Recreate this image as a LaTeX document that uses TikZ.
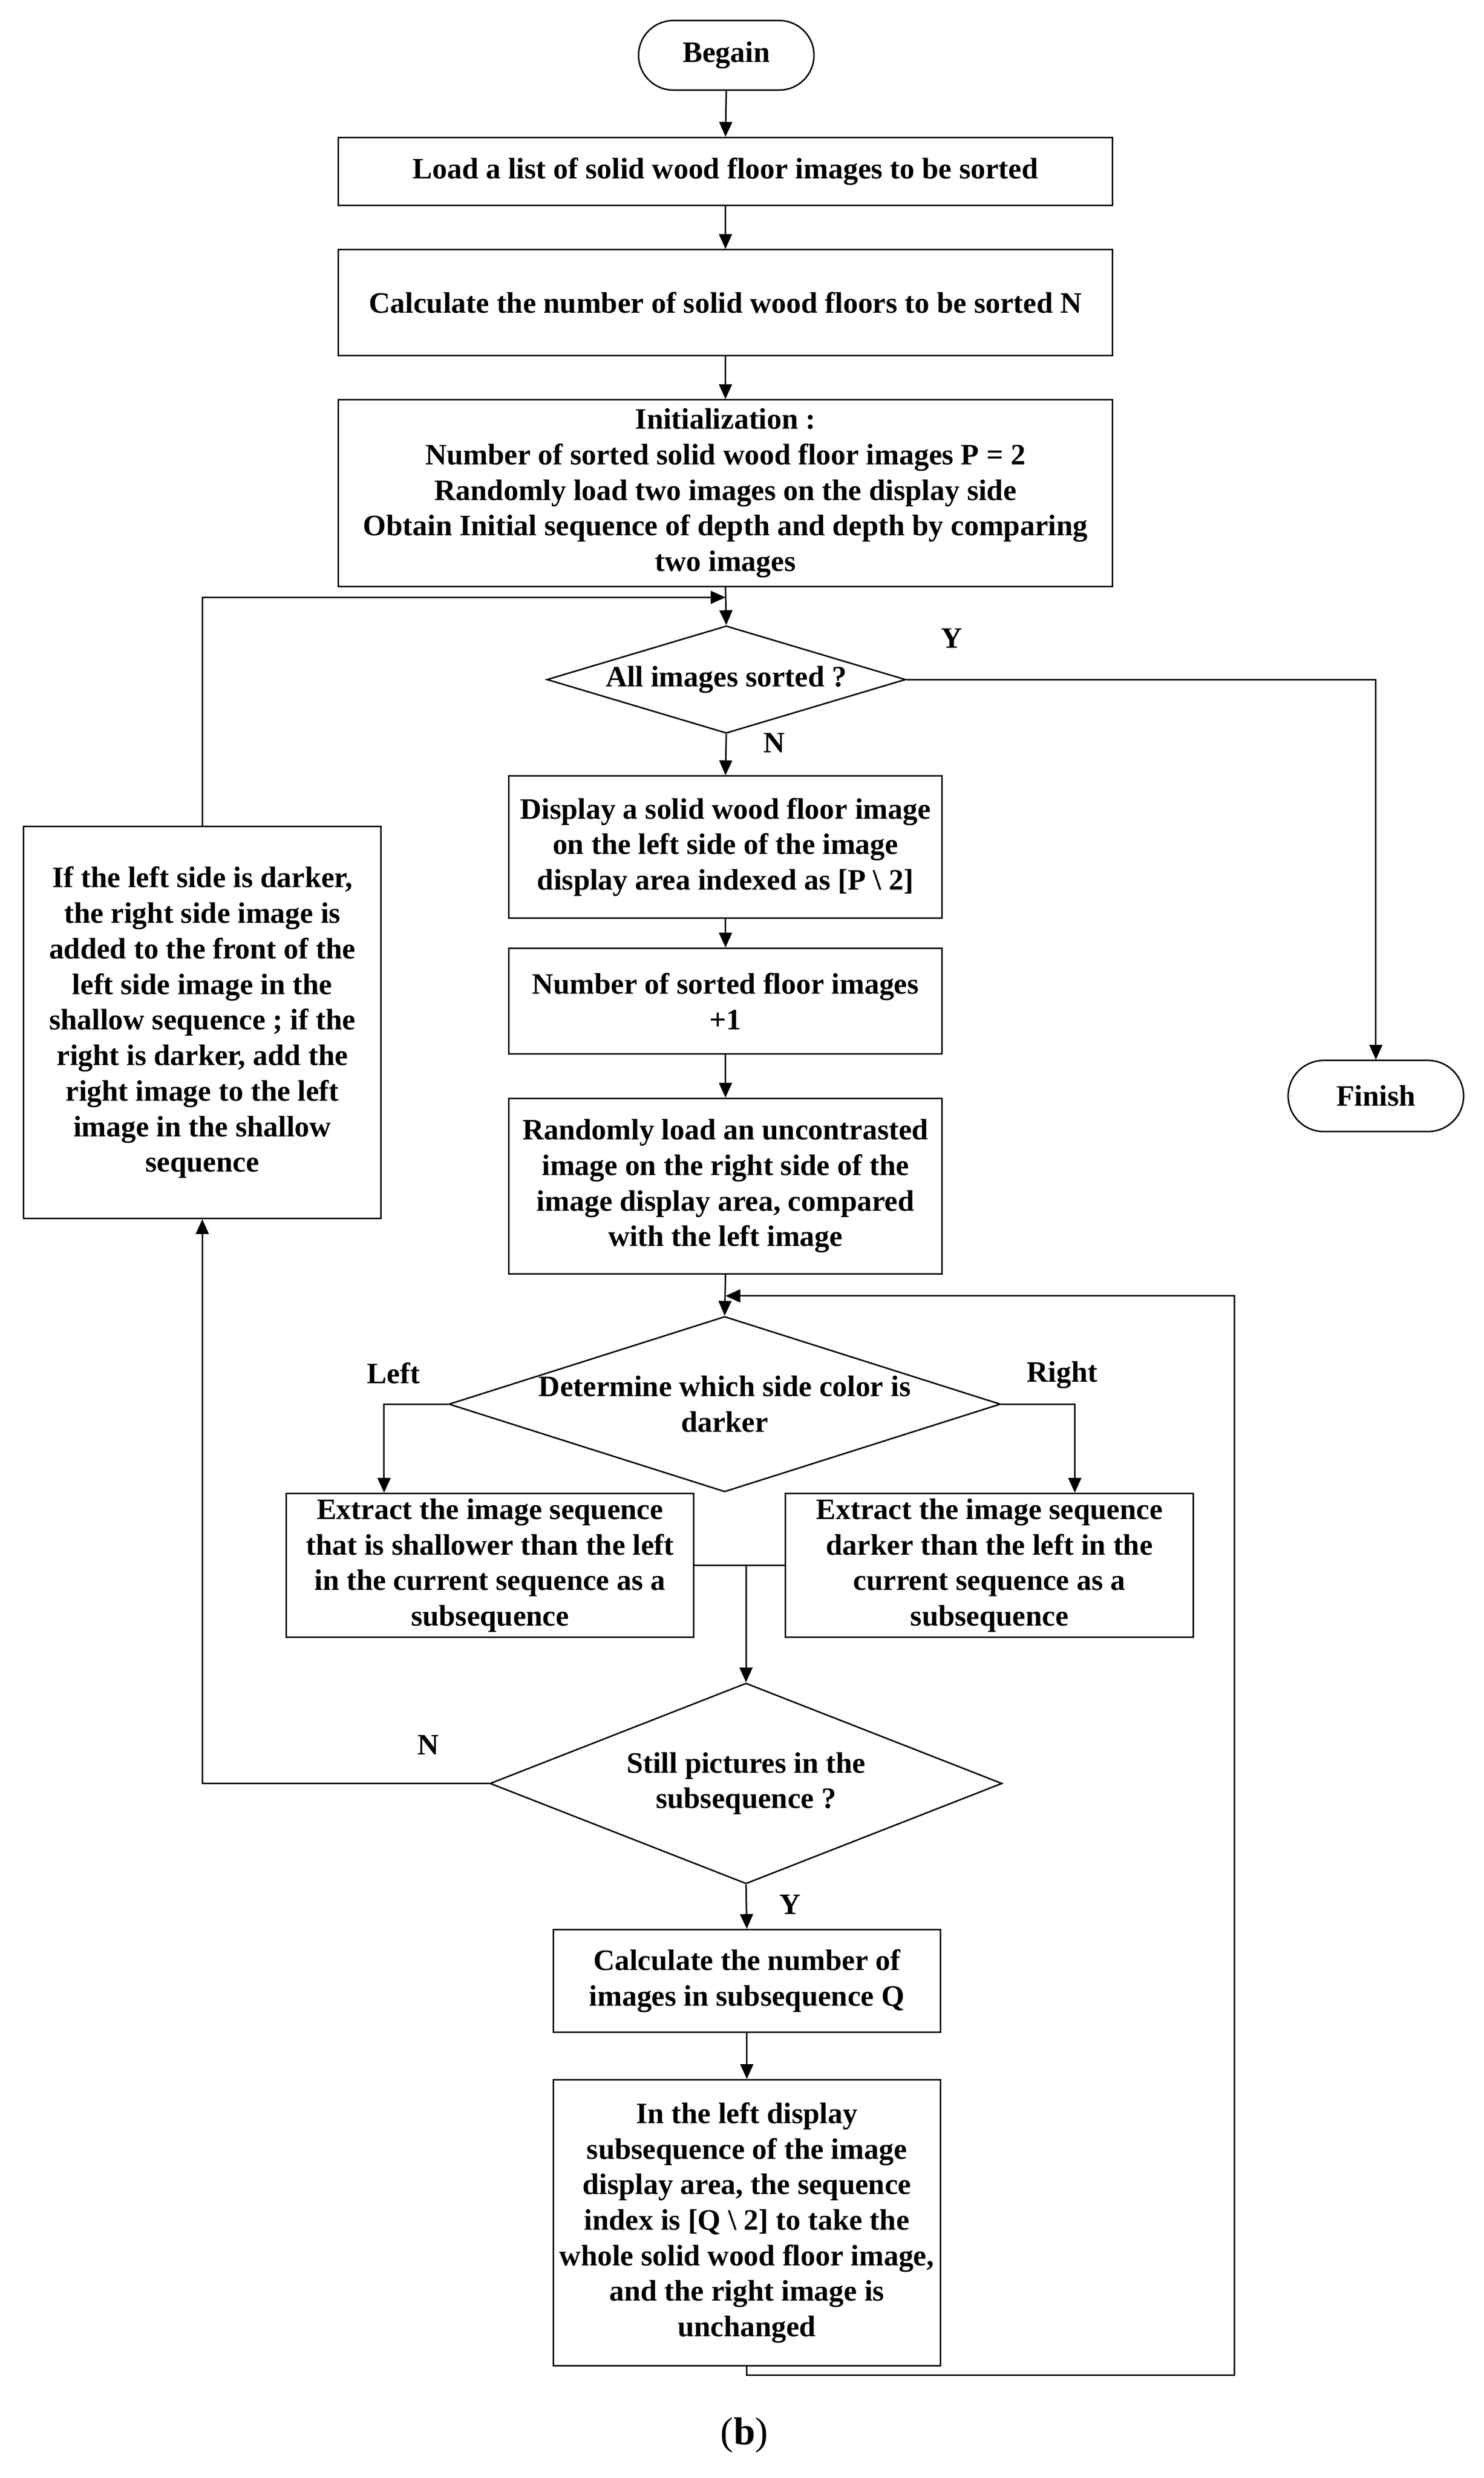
\documentclass[tikz,border=0pt]{standalone}
\usepackage{fontspec}
\setmainfont{Liberation Serif}
\usetikzlibrary{arrows.meta,shapes.geometric,shapes.misc}
\newcommand{\mainf}{\fontsize{16}{19.2}\selectfont\bfseries}
\tikzset{
  base/.style={draw, line width=0.8pt, font=\mainf, align=center, inner sep=0pt},
  procbox/.style={base, rectangle},
  term/.style={base, rounded rectangle},
  decision/.style={draw, line width=0.8pt, diamond, inner sep=0pt},
  arr/.style={-{Triangle[length=8pt,width=7pt]}, line width=0.8pt},
  conn/.style={line width=0.8pt},
  lbl/.style={font=\mainf, inner sep=0pt}
}
\begin{document}
\begin{tikzpicture}[x=0.03cm, y=-0.03cm]
\useasboundingbox (0,0) rectangle (938.8,1568);
% terminals
\node[term, minimum width=3.33cm, minimum height=1.32cm] (begin) at (459.5,35) {Begain};
\node[term, minimum width=3.33cm, minimum height=1.35cm] (fin) at (870.5,693.5) {Finish};
% process boxes
\node[procbox, minimum width=14.7cm, minimum height=1.29cm] (b1) at (459,108.5) {Load a list of solid wood floor images to be sorted};
\node[procbox, minimum width=14.7cm, minimum height=2.01cm] (b2) at (459,191.5) {Calculate the number of solid wood floors to be sorted N};
\node[procbox, minimum width=14.7cm, minimum height=3.54cm] (b3) at (459,312) {Initialization :\\Number of sorted solid wood floor images P = 2\\Randomly load two images on the display side\\Obtain Initial sequence of depth and depth by comparing\\two images};
\node[procbox, minimum width=8.22cm, minimum height=2.7cm] (b4) at (459,536) {Display a solid wood floor image\\on the left side of the image\\display area indexed as [P \textbackslash\ 2]};
\node[procbox, minimum width=8.22cm, minimum height=2.01cm] (b5) at (459,633.5) {Number of sorted floor images\\+1};
\node[procbox, minimum width=8.22cm, minimum height=3.33cm] (b6) at (459,750.5) {Randomly load an uncontrasted\\image on the right side of the\\image display area, compared\\with the left image};
\node[procbox, minimum width=7.74cm, minimum height=2.73cm] (b7) at (310,990.5) {Extract the image sequence\\that is shallower than the left\\in the current sequence as a\\subsequence};
\node[procbox, minimum width=7.74cm, minimum height=2.73cm] (b8) at (626,990.5) {Extract the image sequence\\darker than the left in the\\current sequence as a\\subsequence};
\node[procbox, minimum width=7.35cm, minimum height=1.95cm] (b9) at (472.5,1253.5) {Calculate the number of\\images in subsequence Q};
\node[procbox, minimum width=7.35cm, minimum height=5.43cm] (b10) at (472.5,1406.5) {In the left display\\subsequence of the image\\display area, the sequence\\index is [Q \textbackslash\ 2] to take the\\whole solid wood floor image,\\and the right image is\\unchanged};
\node[procbox, minimum width=6.78cm, minimum height=7.44cm] (lb) at (128,647) {If the left side is darker,\\the right side image is\\added to the front of the\\left side image in the\\shallow sequence ; if the\\right is darker, add the\\right image to the left\\image in the shallow\\sequence};
% decisions
\node[decision, minimum width=6.81cm, minimum height=2.04cm] (d1) at (459.5,430) {};
\node[lbl] (d1t) at (d1) {All images sorted ?};
\node[decision, minimum width=10.47cm, minimum height=3.33cm] (d2) at (458.5,888.5) {};
\node[lbl, align=center] (d2t) at (d2) {Determine which side color is\\darker};
\node[decision, minimum width=9.72cm, minimum height=3.81cm] (d3) at (472,1128.5) {};
\node[lbl, align=center] (d3t) at (d3) {Still pictures in the\\subsequence ?};
% helper coordinates
\coordinate (jn1) at (459,378);
\coordinate (jn2) at (459,820);
\coordinate (lft) at (243,888.5);
\coordinate (rgt) at (680,888.5);
\coordinate (lpB) at (781,1503);
\coordinate (lpT) at (781,820);
% connectors
\draw[arr] (begin.south) -- (b1.north);
\draw[arr] (b1.south) -- (b2.north);
\draw[arr] (b2.south) -- (b3.north);
\draw[arr] (b3.south) -- (d1.north);
\draw[arr] (d1.east) -| (fin.north);
\draw[arr] (d1.south) -- (b4.north);
\draw[arr] (b4.south) -- (b5.north);
\draw[arr] (b5.south) -- (b6.north);
\draw[arr] (b6.south) -- (d2.north);
\draw[arr] (d2.west) -- (lft) -- (lft |- b7.north);
\draw[arr] (d2.east) -- (rgt) -- (rgt |- b8.north);
\draw[conn] (b7.east) -- (b8.west);
\draw[arr] (d3.north |- b7.east) -- (d3.north);
\draw[arr] (d3.south) -- (b9.north);
\draw[arr] (b9.south) -- (b10.north);
\draw[arr] (b10.south) |- (lpB) -- (lpT) -- (jn2);
\draw[arr] (d3.west) -| (lb.south);
\draw[arr] (lb.north) |- (jn1);
% labels
\node[lbl] (ly1) at (602,404) {Y};
\node[lbl] (ln1) at (490,470) {N};
\node[lbl] (lleft) at (249,869) {Left};
\node[lbl] (lright) at (672,870) {Right};
\node[lbl] (ln2) at (271,1104) {N};
\node[lbl] (ly2) at (500,1205) {Y};
\node[font=\fontsize{21}{25}\selectfont, inner sep=0pt] (cap) at (471,1541) {(\textbf{b})};
\end{tikzpicture}
\end{document}
